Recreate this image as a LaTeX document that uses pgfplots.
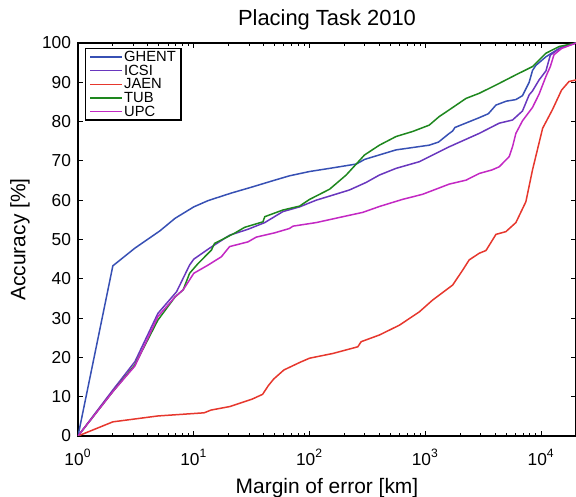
\documentclass[border=0pt]{standalone}
\usepackage{fontspec}
\setmainfont{Liberation Sans}
\usepackage{pgfplots}
\pgfplotsset{compat=1.18}

\definecolor{ghent}{RGB}{55,80,180}
\definecolor{icsi}{RGB}{105,55,190}
\definecolor{jaen}{RGB}{230,55,45}
\definecolor{tub}{RGB}{30,135,30}
\definecolor{upc}{RGB}{195,40,195}

\begin{document}
\begin{tikzpicture}
\begin{axis}[
    name=ax,
    scale only axis,
    width=249bp, height=196.5bp,
    xmode=log, log basis x=10,
    xmin=1, xmax=20000,
    ymin=0, ymax=100,
    ytick={0,10,...,100},
    xticklabel={10\textsuperscript{\pgfmathprintnumber[fixed,precision=0]{\tick}}},
    /pgf/number format/assume math mode=true,
    tick label style={font=\fontsize{8.7}{8.7}\selectfont},
    xticklabel style={anchor=base, yshift=-14.5bp},
    xtick pos=both, ytick pos=both,
    tick align=inside,
    major tick length=2.5bp, minor tick length=1.5bp,
    every tick/.style={black, line width=0.5bp},
    axis line style={line width=0.8bp},
    title={Placing Task 2010},
    title style={font=\fontsize{11}{11}\selectfont, at={(axis description cs:0.5,1)}, anchor=base, yshift=3bp},
    xlabel={Margin of error [km]},
    xlabel style={font=\fontsize{10.5}{10.5}\selectfont, at={(axis description cs:0.5,0)}, anchor=base, yshift=-28.5bp},
    ylabel={Accuracy [\%]},
    ylabel style={font=\fontsize{10.5}{10.5}\selectfont, at={(axis description cs:0,0.5)}, anchor=center, yshift=29bp},
    legend cell align=left,
    legend style={at={(axis description cs:0.014,0.987)}, anchor=north west,
        font=\fontsize{7.4}{7.4}\selectfont, draw=black, line width=0.6bp,
        inner xsep=2bp, inner ysep=0.8bp,
        nodes={inner sep=0.6bp, text height=5.1bp, text depth=0.5bp}},
    legend image code/.code={\draw[#1, line width=0.7bp] (0bp,0bp) -- (16bp,0bp);},
    every axis plot/.append style={line width=0.75bp},
]
% GHENT
\addplot[color=ghent] coordinates {
(1,0) (2,43.3) (3.1,47.8) (5.1,52.2) (6.9,55.4) (10,58.3) (13.3,59.9) (21,61.8)
(31.4,63.3) (50,65.1) (67,66.2) (100,67.3) (149,68.1) (253,69.2) (300,70.4)
(558,72.8) (1080,74.0) (1300,74.8) (1610,77.0) (1720,77.6) (1800,78.5)
(2920,81.0) (3500,82.0) (4070,84.2) (5000,85.2) (6050,85.6) (6900,86.6)
(7880,90.0) (8420,93.0) (9000,94.3) (11000,96.5) (14300,98.6) (17400,99.5) (20000,100)
};
\addlegendentry{GHENT}
% ICSI
\addplot[color=icsi] coordinates {
(1,0) (2,11.7) (3.1,18.9) (4.9,31.2) (7.1,36.7) (9.2,43.5) (10,45.0) (13.7,47.8)
(20.4,51.1) (29.4,52.6) (41,54.3) (58.8,57.1) (82,58.3) (114,60.0) (159,61.3)
(221,62.6) (307,64.5) (401,66.4) (558,68.1) (888,69.8) (1610,73.6) (2920,77.0)
(4345,79.6) (5660,80.4) (6900,82.7) (7880,86.8) (8420,87.8) (9600,90.6)
(11000,92.9) (12000,96.9) (14300,98.6) (20000,100)
};
\addlegendentry{ICSI}
% JAEN
\addplot[color=jaen] coordinates {
(1,0) (2,3.6) (4.9,5.1) (12.3,5.9) (14.1,6.6) (20.5,7.5) (32,9.4) (39.3,10.6)
(44,12.8) (49,14.5) (60,16.8) (82,18.7) (100,19.8) (159,21.0) (261,22.7)
(279,24.0) (401,25.7) (597,28.2) (888,31.6) (1156,34.6) (1720,38.4) (2100,42.2)
(2390,44.8) (2920,46.5) (3340,47.2) (4070,51.3) (4960,52.0) (6050,54.3)
(7380,59.6) (8420,67.7) (10300,78.3) (12500,83.0) (15000,88.0) (17400,90.2) (20000,90.6)
};
\addlegendentry{JAEN}
% TUB
\addplot[color=tub] coordinates {
(1,0) (2,11.3) (3.1,18.1) (4.9,29.5) (6.9,35.4) (8.1,37.2) (9.2,41.4) (10.9,43.9)
(14.2,47.3) (15.1,49.0) (22.5,51.6) (27.5,53.1) (39.6,54.5) (41,55.8) (58.8,57.5)
(82,58.5) (100,60.2) (149,62.8) (207,66.4) (253,69.2) (298,71.5) (401,74.0)
(558,76.2) (779,77.5) (1080,79.1) (1320,81.3) (1610,83.0) (2245,85.9) (2920,87.2)
(4070,89.3) (6050,91.9) (8420,94.0) (11000,97.4) (14300,99.1) (20000,100)
};
\addlegendentry{TUB}
% UPC
\addplot[color=upc] coordinates {
(1,0) (2,11.3) (3.1,17.8) (4.9,30.4) (6.9,35.4) (8.1,37.2) (10,41.4) (13.3,43.5)
(17.3,45.6) (20.4,48.2) (29.4,49.4) (34.6,50.6) (50,51.7) (67,52.8) (72,53.4)
(114,54.3) (194,55.8) (288,56.9) (401,58.4) (634,60.2) (946,61.5) (1610,64.1)
(2245,65.1) (2920,66.8) (3760,67.7) (4345,68.5) (5300,71.1) (5660,73.6)
(6050,77.0) (6900,80.2) (8420,83.6) (9600,87.0) (11000,91.5) (12000,94.0)
(12900,97.0) (15000,98.6) (20000,100)
};
\addlegendentry{UPC}
\end{axis}
\pgfresetboundingbox
\path ([xshift=-39bp,yshift=-30.5bp]ax.south west) rectangle ([yshift=21.5bp]ax.north east);
\end{tikzpicture}
\end{document}
